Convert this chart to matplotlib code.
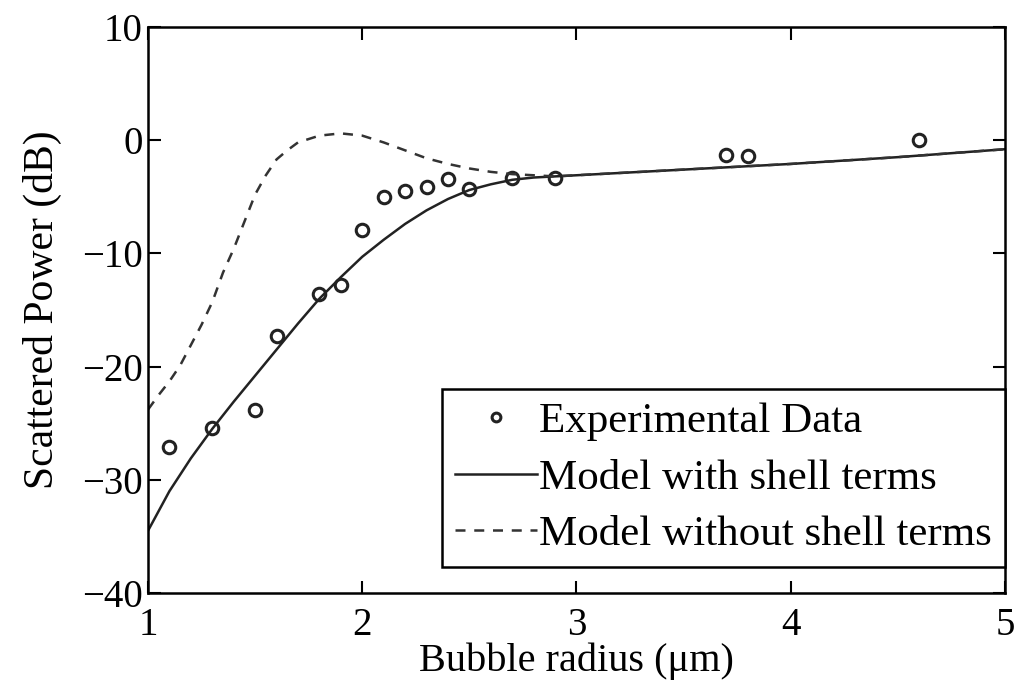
import numpy as np
import matplotlib
matplotlib.use('Agg')
import matplotlib.pyplot as plt

# ── DATA ─────────────────────────────────────────────────────
radius_exp = [1.1, 1.3, 1.5, 1.6, 1.8, 1.9, 2.0, 2.1, 2.2, 2.3, 2.4, 2.5,
              2.7, 2.9, 3.7, 3.8, 4.6]
power_exp = [-27.1, -25.4, -23.8, -17.3, -13.6, -12.8, -7.9, -5.0, -4.5,
             -4.1, -3.4, -4.3, -3.3, -3.3, -1.3, -1.4, 0.0]

radius_shell = [1.0, 1.1, 1.2, 1.3, 1.4, 1.5, 1.6, 1.7, 1.8, 1.9, 2.0, 2.1,
                2.2, 2.3, 2.4, 2.5, 2.6, 2.7, 2.8, 2.9, 3.0, 3.5, 4.0, 4.5, 5.0]
power_shell = [-34.5, -31.0, -28.1, -25.5, -23.1, -20.8, -18.5, -16.2, -14.0,
               -12.1, -10.3, -8.8, -7.4, -6.2, -5.2, -4.4, -3.9, -3.5, -3.3,
               -3.2, -3.1, -2.6, -2.1, -1.5, -0.8]

radius_noshell = [1.0, 1.05, 1.1, 1.15, 1.2, 1.25, 1.3, 1.35, 1.4, 1.45, 1.5,
                  1.55, 1.6, 1.65, 1.7, 1.8, 1.9, 2.0, 2.1, 2.2, 2.3, 2.4,
                  2.5, 2.6, 2.7, 2.8, 2.9, 3.0, 3.5, 4.0, 4.5, 5.0]
power_noshell = [-23.8, -22.5, -21.3, -19.9, -18.1, -16.3, -14.3, -11.7, -9.6,
                 -7.2, -4.8, -3.1, -1.7, -0.9, -0.2, 0.4, 0.6, 0.4, -0.2, -0.9,
                 -1.6, -2.1, -2.5, -2.8, -3.0, -3.1, -3.2, -3.1, -2.6, -2.1,
                 -1.5, -0.8]

xticks = [1, 2, 3, 4, 5]
yticks = [10, 0, -10, -20, -30, -40]

# ── PLOT ─────────────────────────────────────────────────────
plt.rcParams['font.family'] = ['Liberation Serif', 'DejaVu Serif']

fig = plt.figure(figsize=(10.18, 6.91), dpi=100)
ax = fig.add_axes([0.1454, 0.1418, 0.8418, 0.8192])

ax.plot(radius_exp, power_exp, linestyle='none', marker='o', markersize=9,
        markerfacecolor='none', markeredgecolor='#222222', markeredgewidth=2.2,
        label='Experimental Data')
ax.plot(radius_shell, power_shell, color='#222222', linewidth=1.8,
        label='Model with shell terms')
ax.plot(radius_noshell, power_noshell, color='#333333', linewidth=1.8,
        linestyle=(0, (4, 3.5)), label='Model without shell terms')

ax.set_xlim(1, 5)
ax.set_ylim(-40, 10)
ax.set_xticks(xticks)
ax.set_yticks(yticks)
ax.set_yticklabels([f'{v}'.replace('-', '\u2212') for v in yticks])
ax.tick_params(direction='in', length=9, width=1.5, labelsize=28,
               top=True, right=True)
ax.tick_params(axis='x', pad=10)
ax.tick_params(axis='y', pad=4)
for spine in ax.spines.values():
    spine.set_linewidth(1.8)

ax.set_xlabel('Bubble radius (\u03bcm)', fontsize=29, labelpad=-1)
ax.set_ylabel('Scattered Power (dB)', fontsize=30, labelpad=14)

leg = ax.legend(loc='lower right', bbox_to_anchor=(1.0, 0.046),
                fontsize=31, frameon=True, fancybox=False,
                framealpha=1, edgecolor='black', handlelength=1.9,
                handletextpad=0.05, borderpad=0.3, labelspacing=0.4,
                borderaxespad=0.0, markerscale=0.7)
leg.get_frame().set_linewidth(1.8)

fig.savefig('out.png', dpi=100)
